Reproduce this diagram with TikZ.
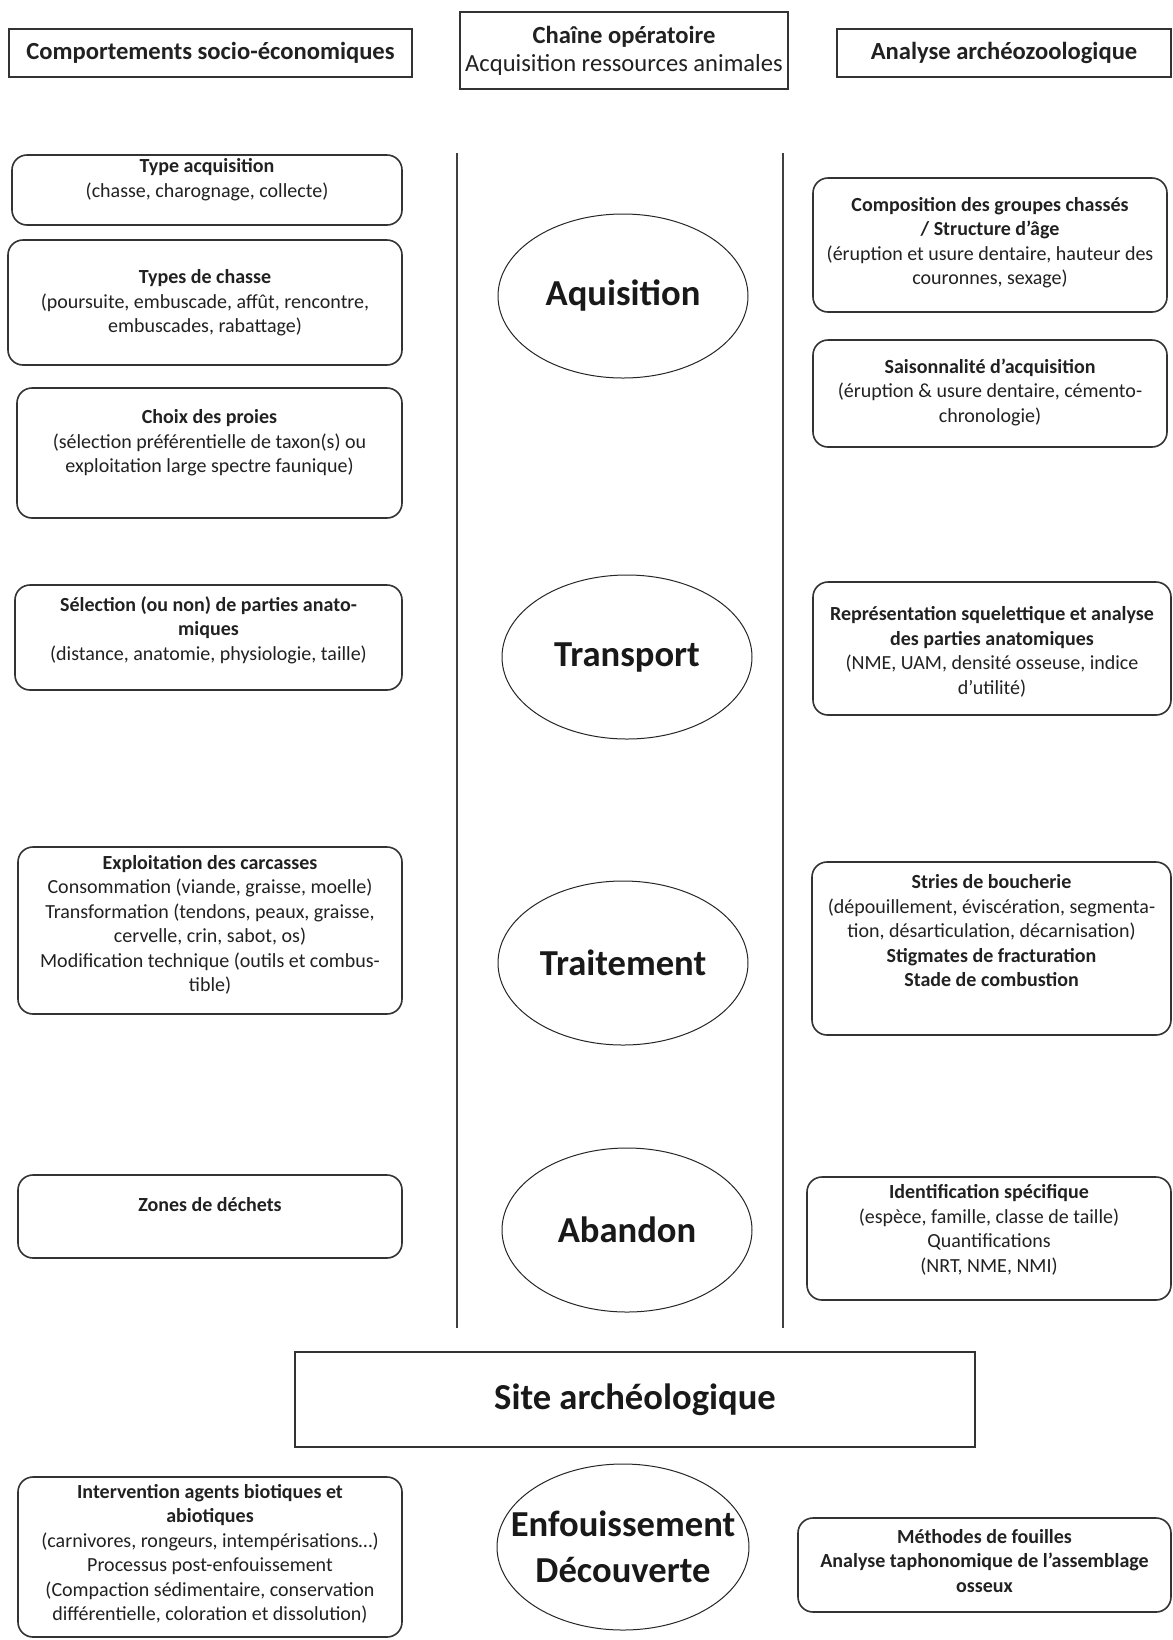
\documentclass[tikz,border=0pt]{standalone}
\usepackage{fontspec}
\setmainfont{Carlito}
\usetikzlibrary{shapes.geometric}
\begin{document}
\begin{tikzpicture}[x=0.5pt,y=-0.5pt,
  hbox/.style={draw=black!80, line width=1pt, inner sep=0pt},
  rbox/.style={draw=black!80, line width=0.8pt, rounded corners=7.5pt, inner sep=0pt},
  ell/.style={draw=black!85, line width=0.5pt, ellipse, inner sep=0pt, minimum width=125pt, minimum height=82pt},
  etxt/.style={align=center, inner sep=0pt, text=black!90, font=\fontsize{18.3}{23}\selectfont\bfseries},
  txt/.style={align=center, inner sep=0pt, text=black!87, font=\fontsize{10}{12.25}\selectfont},
  htxt/.style={align=center, text=black!87, font=\fontsize{12.3}{14}\selectfont},
  big/.style={align=center, text=black!90, font=\fontsize{18.3}{22}\selectfont\bfseries},
  vline/.style={draw=black!75, line width=1.3pt}]

\fill[white] (0,0) rectangle (1173,1640);
\useasboundingbox (0,0) rectangle (1173,1640);

% headers
\node[hbox, htxt, minimum width=201.5pt, minimum height=24pt] (HL) at (210.5,53) {\textbf{Comportements socio-économiques}};
\node[hbox, htxt, minimum width=164pt, minimum height=38.5pt] (HC) at (624,50.5) {\textbf{Chaîne opératoire}\\Acquisition ressources animales};
\node[hbox, htxt, minimum width=167pt, minimum height=24pt] (HR) at (1004,53) {\textbf{Analyse archéozoologique}};

% vertical separators
\coordinate (v1a) at (457,153);
\coordinate (v1b) at (457,1328);
\coordinate (v2a) at (783,153);
\coordinate (v2b) at (783,1328);
\draw[vline] (v1a) -- (v1b);
\draw[vline] (v2a) -- (v2b);

% ellipses
\node[ell] (E1) at (623,296) {};
\node[etxt] (E1t) at (E1.center) {Aquisition};
\node[ell] (E2) at (627,657) {};
\node[etxt] (E2t) at (E2.center) {Transport};
\node[ell] (E3) at (623,963) {};
\node[etxt] (E3t) at (E3.center) {Traitement};
\node[ell] (E4) at (627,1230) {};
\node[etxt] (E4t) at (E4.center) {Abandon};
\node[ell, minimum width=126pt, minimum height=83pt] (E5) at (623,1547) {};
\node[etxt] (E5t) at (E5.center) {Enfouissement\\Découverte};

% site
\node[hbox, big, minimum width=340pt, minimum height=47.5pt] (S) at (635,1399.5) {Site archéologique};

% left boxes
\node[rbox, minimum width=195pt, minimum height=35pt] (L1) at (207,190) {};
\node[txt] (L1t) at (207,179.5) {\textbf{Type acquisition}\\(chasse, charognage, collecte)};

\node[rbox, minimum width=197pt, minimum height=62.5pt] (L2) at (205,302.5) {};
\node[txt] (L2t) at (205,303) {\textbf{Types de chasse}\\(poursuite, embuscade, affût, rencontre,\\embuscades, rabattage)};

\node[rbox, minimum width=192.5pt, minimum height=65pt] (L3) at (209.5,453) {};
\node[txt] (L3t) at (209.5,443) {\textbf{Choix des proies}\\(sélection préférentielle de taxon(s) ou\\exploitation large spectre faunique)};

\node[rbox, minimum width=193.5pt, minimum height=52.5pt] (L4) at (208.5,637.5) {};
\node[txt] (L4t) at (208.5,630) {\textbf{Sélection (ou non) de parties anato-}\\\textbf{miques}\\(distance, anatomie, physiologie, taille)};

\node[rbox, minimum width=192pt, minimum height=83.5pt] (L5) at (210,930.5) {};
\node[txt] (L5t) at (210,925) {\textbf{Exploitation des carcasses}\\Consommation (viande, graisse, moelle)\\Transformation (tendons, peaux, graisse,\\cervelle, crin, sabot, os)\\Modification technique (outils et combus-\\tible)};

\node[rbox, minimum width=192pt, minimum height=41.5pt] (L6) at (210,1216.5) {};
\node[txt] (L6t) at (210,1205) {\textbf{Zones de déchets}};

\node[rbox, minimum width=192pt, minimum height=80pt] (L7) at (210,1557) {};
\node[txt] (L7t) at (210,1554) {\textbf{Intervention agents biotiques et}\\\textbf{abiotiques}\\(carnivores, rongeurs, intempérisations…)\\Processus post-enfouissement\\(Compaction sédimentaire, conservation\\différentielle, coloration et dissolution)};

% right boxes
\node[rbox, minimum width=177pt, minimum height=67pt] (R1) at (990,245) {};
\node[txt] (R1t) at (990,242.5) {\textbf{Composition des groupes chassés}\\\textbf{/ Structure d’âge}\\(éruption et usure dentaire, hauteur des\\couronnes, sexage)};

\node[rbox, minimum width=177pt, minimum height=53.5pt] (R2) at (990,393.5) {};
\node[txt] (R2t) at (990,392) {\textbf{Saisonnalité d’acquisition}\\(éruption \& usure dentaire, cémento-\\chronologie)};

\node[rbox, minimum width=179pt, minimum height=66.5pt] (R3) at (992,648.5) {};
\node[txt] (R3t) at (992,652) {\textbf{Représentation squelettique et analyse}\\\textbf{des parties anatomiques}\\(NME, UAM, densité osseuse, indice\\d’utilité)};

\node[rbox, minimum width=179.5pt, minimum height=86.5pt] (R4) at (991.5,948.5) {};
\node[txt] (R4t) at (991.5,931) {\textbf{Stries de boucherie}\\(dépouillement, éviscération, segmenta-\\tion, désarticulation, décarnisation)\\\textbf{Stigmates de fracturation}\\\textbf{Stade de combustion}};

\node[rbox, minimum width=182pt, minimum height=61.5pt] (R5) at (989,1238.5) {};
\node[txt] (R5t) at (989,1230) {\textbf{Identification spécifique}\\(espèce, famille, classe de taille)\\Quantifications\\(NRT, NME, NMI)};

\node[rbox, minimum width=186.5pt, minimum height=47pt] (R6) at (984.5,1565) {};
\node[txt] (R6t) at (984.5,1561) {\textbf{Méthodes de fouilles}\\\textbf{Analyse taphonomique de l’assemblage}\\\textbf{osseux}};

\end{tikzpicture}
\end{document}
